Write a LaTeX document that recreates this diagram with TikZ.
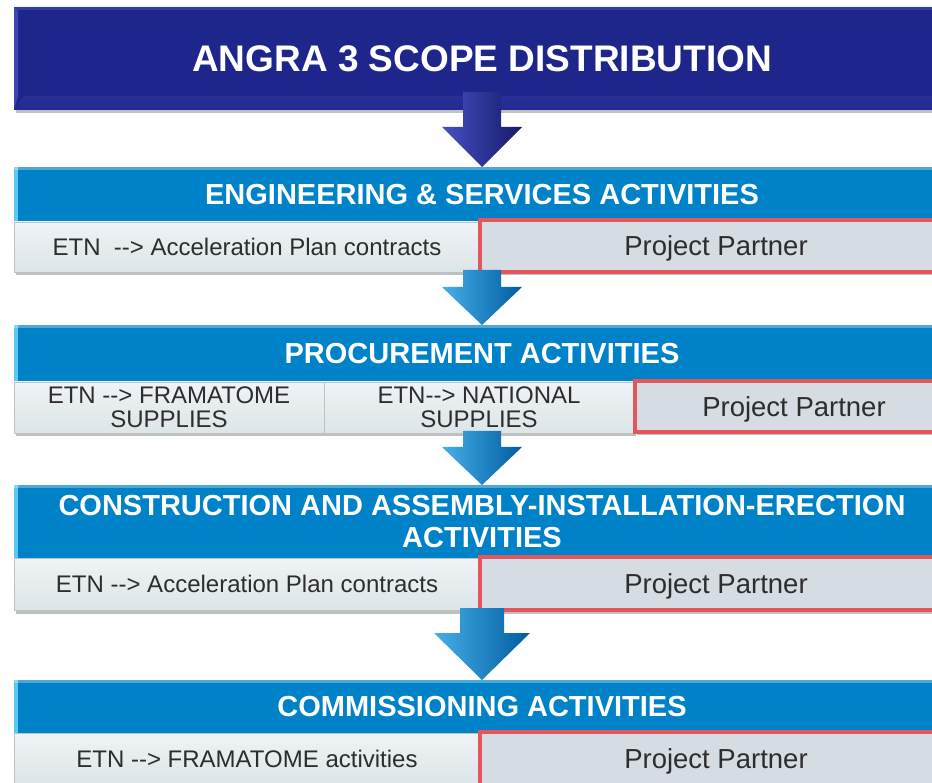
\documentclass[tikz,border=0pt]{standalone}
\usepackage{fontspec}
\setmainfont{Liberation Sans}
\usetikzlibrary{calc,shadows}

\definecolor{navy}{RGB}{30,38,140}
\definecolor{navylight}{RGB}{75,85,195}
\definecolor{hblue}{RGB}{0,130,200}
\definecolor{hbluelight}{RGB}{90,200,240}
\definecolor{greyL}{RGB}{220,229,232}
\definecolor{greyR}{RGB}{213,220,226}
\definecolor{pred}{RGB}{226,86,92}
\definecolor{txt}{RGB}{45,45,45}
\definecolor{nvL}{RGB}{70,80,195}
\definecolor{nvM}{RGB}{35,44,155}
\definecolor{nvD}{RGB}{20,26,105}
\definecolor{blL}{RGB}{70,175,232}
\definecolor{blM}{RGB}{0,128,200}
\definecolor{blD}{RGB}{0,92,160}

\tikzset{
  boxbase/.style={anchor=north west, inner sep=0pt, outer sep=0pt,
    drop shadow={shadow xshift=1.5pt, shadow yshift=-3.5pt, opacity=.35, fill=black!70}},
  titlebox/.style={boxbase, fill=navy, text=white,
    minimum width=936pt, minimum height=103pt,
    font=\fontsize{37}{40}\selectfont\bfseries,
    path picture={
      \shade[top color=navylight!80!navy, bottom color=navy!90!navylight]
        (path picture bounding box.south west) -- ([xshift=10pt,yshift=14pt]path picture bounding box.south west)
        -- ([xshift=-10pt,yshift=14pt]path picture bounding box.south east) -- (path picture bounding box.south east) -- cycle;
      \fill[navylight, opacity=.7]
        (path picture bounding box.north west) -- ([xshift=4pt,yshift=-4pt]path picture bounding box.north west)
        -- ([xshift=4pt,yshift=14pt]path picture bounding box.south west) -- (path picture bounding box.south west) -- cycle;
      \fill[navylight, opacity=.5]
        (path picture bounding box.north west) -- ([xshift=4pt,yshift=-3pt]path picture bounding box.north west)
        -- ([yshift=-3pt]path picture bounding box.north east) -- (path picture bounding box.north east) -- cycle;
    }},
  hdr/.style={boxbase, fill=hblue, text=white, minimum width=936pt, align=center,
    font=\fontsize{29}{32}\selectfont\bfseries,
    path picture={
      \fill[hbluelight] (path picture bounding box.north west) rectangle ([xshift=3.5pt]path picture bounding box.south west);
      \fill[white, opacity=.3] (path picture bounding box.north west) rectangle ([yshift=-3pt]path picture bounding box.north east);
    }},
  subL/.style={boxbase, top color=greyL!45!white, bottom color=greyL, draw=greyL!85!black, line width=.6pt,
    text=txt, align=center, font=\fontsize{24}{24}\selectfont},
  subR/.style={boxbase, fill=greyR, draw=pred, line width=4pt,
    text=txt, align=center, text height=20pt, text depth=0pt, font=\fontsize{27.5}{28}\selectfont},
}

\newcommand\blockarr[7]{%
  \path[left color=#7L, middle color=#7M, right color=#7D]
    ($(#2.north |- #1.south)+(-#4,#3)$) -- ($(#2.north)+(-#4,-#6)$) -- ($(#2.north)+(-#5,-#6)$)
    -- (#2.north) -- ($(#2.north)+(#5,-#6)$) -- ($(#2.north)+(#4,-#6)$)
    -- ($(#2.north |- #1.south)+(#4,#3)$) -- cycle;}

\begin{document}
\begin{tikzpicture}[x=1pt, y=-1pt]
\useasboundingbox (0,0) rectangle (932,783);
\clip (0,0) rectangle (932,783);
\fill[white] (0,0) rectangle (932,783);

% title
\node[titlebox] (title) at (14,7) {ANGRA 3 SCOPE DISTRIBUTION};

% engineering
\node[hdr, minimum height=55pt] (eng) at (14,167) {ENGINEERING \& SERVICES ACTIVITIES};
\node[subL, minimum width=466pt, minimum height=50pt] (engL) at (14,222) {ETN\ \ -{}-{}> Acceleration Plan contracts};
\node[subR, minimum width=472pt, minimum height=52pt] (engR) at (480,220) {Project Partner};

% procurement
\node[hdr, minimum height=57pt] (proc) at (14,325) {PROCUREMENT ACTIVITIES};
\node[subL, minimum width=310pt, minimum height=51pt] (procA) at (14,382) {ETN -{}-{}> FRAMATOME\\SUPPLIES};
\node[subL, minimum width=310pt, minimum height=51pt] (procB) at (324,382) {ETN-{}-{}> NATIONAL\\SUPPLIES};
\node[subR, minimum width=318pt, minimum height=51pt] (procC) at (635,381) {Project Partner};

% construction
\node[hdr, minimum height=73pt] (cons) at (14,485) {CONSTRUCTION AND ASSEMBLY-INSTALLATION-ERECTION\\ACTIVITIES};
\node[subL, minimum width=466pt, minimum height=52pt] (consL) at (14,558) {ETN -{}-{}> Acceleration Plan contracts};
\node[subR, minimum width=472pt, minimum height=53pt] (consR) at (480,557) {Project Partner};

% commissioning
\node[hdr, minimum height=53pt] (comm) at (14,680) {COMMISSIONING ACTIVITIES};
\node[subL, minimum width=466pt, minimum height=52pt] (commL) at (14,733) {ETN -{}-{}> FRAMATOME activities};
\node[subR, minimum width=472pt, minimum height=53pt] (commR) at (480,732) {Project Partner};

% arrows
\blockarr{title}{eng}{-18}{19}{40}{40}{nv}
\blockarr{engL}{proc}{-2}{19}{40}{38}{bl}
\blockarr{procA}{cons}{-2}{19}{40}{38}{bl}
\blockarr{consL}{comm}{-2}{22}{48}{47}{bl}
\end{tikzpicture}
\end{document}
